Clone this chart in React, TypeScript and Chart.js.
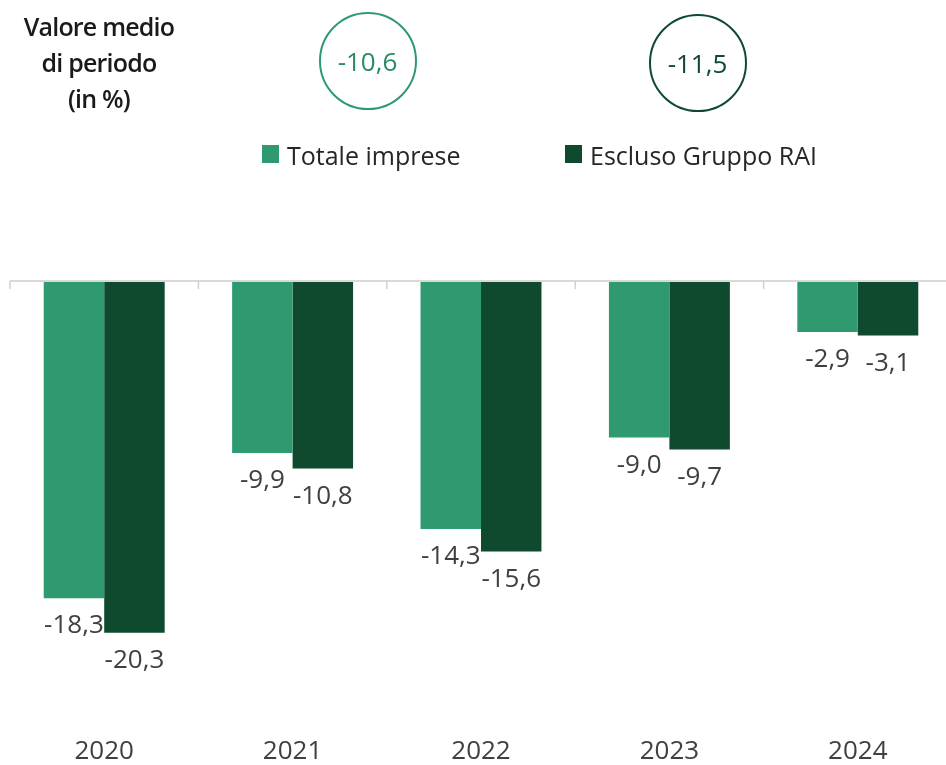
import React, { useEffect, useRef } from "react";
import { Chart, registerables } from "chart.js";

Chart.register(...registerables);

const categories: string[] = ["2020", "2021", "2022", "2023", "2024"];
const seriesNames: string[] = ["Totale imprese", "Escluso Gruppo RAI"];
const totaleImprese: number[] = [-18.3, -9.9, -14.3, -9.0, -2.9];
const esclusoRai: number[] = [-20.3, -10.8, -15.6, -9.7, -3.1];
const periodAverages: number[] = [-10.6, -11.5];
const seriesColors: string[] = ["#2f9a6f", "#0f4a2f"];
const averageTextColors: string[] = ["#2a8a62", "#0f4a2f"];

const FONT = "'Open Sans', 'Noto Sans', sans-serif";
const fmt = (v: number) => v.toFixed(1).replace(".", ",");

const zeroAxisPlugin = {
  id: "zeroAxis",
  beforeDatasetsDraw(chart: any) {
    const { ctx, chartArea, scales } = chart;
    const y0 = scales.y.getPixelForValue(0);
    const xs = scales.x;
    ctx.save();
    ctx.strokeStyle = "#d9d9d9";
    ctx.lineWidth = 2;
    ctx.beginPath();
    ctx.moveTo(chartArea.left, y0 - 1);
    ctx.lineTo(chartArea.right, y0 - 1);
    ctx.stroke();
    ctx.lineWidth = 1.5;
    ctx.strokeStyle = "#d0d0d0";
    const n = categories.length;
    for (let i = 0; i <= n; i++) {
      let x: number;
      if (i === 0) x = chartArea.left;
      else if (i === n) x = chartArea.right;
      else x = (xs.getPixelForValue(i - 1) + xs.getPixelForValue(i)) / 2;
      ctx.beginPath();
      ctx.moveTo(x, y0 - 1);
      ctx.lineTo(x, y0 + 7);
      ctx.stroke();
    }
    ctx.restore();
  },
};

const valueLabelPlugin = {
  id: "valueLabels",
  afterDatasetsDraw(chart: any) {
    const { ctx } = chart;
    ctx.save();
    ctx.font = `400 26px ${FONT}`;
    ctx.fillStyle = "#404040";
    ctx.textAlign = "center";
    ctx.textBaseline = "alphabetic";
    chart.data.datasets.forEach((ds: any, di: number) => {
      const meta = chart.getDatasetMeta(di);
      meta.data.forEach((el: any, i: number) => {
        const v = ds.data[i] as number;
        ctx.fillText(fmt(v), el.x, el.y + 35);
      });
    });
    ctx.restore();
  },
};

export default function App() {
  const canvasRef = useRef<HTMLCanvasElement | null>(null);

  useEffect(() => {
    if (!canvasRef.current) return;
    const chart = new Chart(canvasRef.current, {
      type: "bar",
      data: {
        labels: categories,
        datasets: [
          {
            label: seriesNames[0],
            data: totaleImprese,
            backgroundColor: seriesColors[0],
            barPercentage: 1,
            categoryPercentage: 0.642,
          },
          {
            label: seriesNames[1],
            data: esclusoRai,
            backgroundColor: seriesColors[1],
            barPercentage: 1,
            categoryPercentage: 0.642,
          },
        ],
      },
      options: {
        animation: false,
        responsive: false,
        devicePixelRatio: 1,
        layout: { padding: { top: 282, left: 10, right: 8, bottom: 0 } },
        plugins: {
          legend: { display: false },
          tooltip: { enabled: false },
          title: { display: false },
        },
        scales: {
          x: {
            grid: { display: false, drawTicks: false },
            border: { display: false },
            ticks: {
              color: "#404040",
              font: { family: FONT, size: 26, weight: "400" as any },
              padding: 22,
            },
            afterFit: (scale: any) => {
              scale.height = 51;
            },
          },
          y: {
            display: false,
            min: -25,
            max: 0,
          },
        },
      },
      plugins: [zeroAxisPlugin, valueLabelPlugin],
    });
    return () => chart.destroy();
  }, []);

  const circleCenters = [
    { cx: 367.5, cy: 61 },
    { cx: 697.5, cy: 63 },
  ];
  const legendPos = [
    { left: 262, text: 287 },
    { left: 565, text: 590 },
  ];
  const R = 49;

  return (
    <div
      style={{
        position: "absolute",
        left: 0,
        top: 0,
        width: 946,
        height: 765,
        overflow: "hidden",
        background: "#ffffff",
        fontFamily: FONT,
      }}
    >
      <canvas
        ref={canvasRef}
        width={960}
        height={765}
        style={{ position: "absolute", left: 0, top: 0, display: "block" }}
      />
      <div
        style={{
          position: "absolute",
          left: 0,
          top: 8,
          width: 198,
          textAlign: "center",
          fontSize: 25,
          fontWeight: 600,
          lineHeight: "36px",
          letterSpacing: "-0.8px",
          color: "#1a1a1a",
        }}
      >
        Valore medio
        <br />
        di periodo
        <br />
        (in %)
      </div>
      {periodAverages.map((v, i) => (
        <div
          key={"c" + i}
          style={{
            position: "absolute",
            left: circleCenters[i].cx - R,
            top: circleCenters[i].cy - R,
            width: 2 * R,
            height: 2 * R,
            boxSizing: "border-box",
            border: `2.5px solid ${seriesColors[i]}`,
            borderRadius: "50%",
            display: "flex",
            alignItems: "center",
            justifyContent: "center",
            fontSize: 26,
            color: averageTextColors[i],
          }}
        >
          {fmt(v)}
        </div>
      ))}
      {seriesNames.map((name, i) => (
        <React.Fragment key={"l" + i}>
          <div
            style={{
              position: "absolute",
              left: legendPos[i].left,
              top: 145,
              width: 17,
              height: 18,
              background: seriesColors[i],
            }}
          />
          <div
            style={{
              position: "absolute",
              left: legendPos[i].text,
              top: 137,
              height: 36,
              lineHeight: "36px",
              fontSize: 25,
              color: "#262626",
              whiteSpace: "nowrap",
            }}
          >
            {name}
          </div>
        </React.Fragment>
      ))}
    </div>
  );
}
